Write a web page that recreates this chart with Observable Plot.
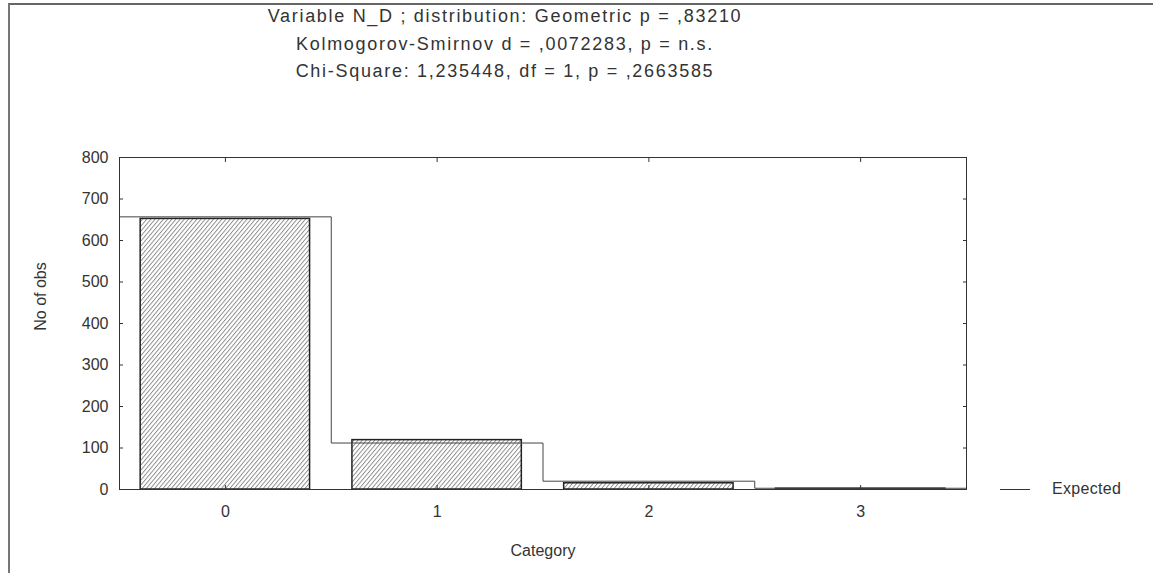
<!DOCTYPE html>
<html>
<head>
<meta charset="utf-8">
<script src="https://cdn.jsdelivr.net/npm/d3@7"></script>
<script src="https://cdn.jsdelivr.net/npm/@observablehq/plot@0.6"></script>
<style>
  html, body { margin: 0; padding: 0; background: #fff; }
  #wrap { position: relative; width: 1153px; height: 573px; overflow: hidden; font-family: "Liberation Sans", Arial, sans-serif; color: #333; }
  #chart { position: absolute; left: 0; top: 0; }
  #border { position: absolute; left: 8px; top: 3px; width: 1150px; height: 580px; box-sizing: border-box; border-top: 2px solid #666; border-left: 2px solid #777; pointer-events: none; }
  #titles { position: absolute; left: 0; top: 3px; width: 1010px; text-align: center; font-size: 18px; line-height: 27.5px; letter-spacing: 1.7px; }
  #legend { position: absolute; left: 1000px; top: 478px; font-size: 16px; line-height: 22px; display: flex; align-items: center; letter-spacing: 0.3px; }
  #legend .sw { width: 30px; height: 0; border-top: 1px solid #333; margin-right: 22px; }
</style>
</head>
<body>
<div id="wrap">
  <div id="chart"></div>
  <div id="border"></div>
  <div id="titles"></div>
  <div id="legend"><span class="sw"></span><span id="legtext"></span></div>
</div>
<script>
const titleLines = [
  "Variable N_D ; distribution: Geometric p = ,83210",
  "Kolmogorov-Smirnov d = ,0072283, p = n.s.",
  "Chi-Square: 1,235448, df = 1, p = ,2663585"
];
const categories = [0, 1, 2, 3];
const observed = [652, 119, 15, 2];
const expected = [657, 112, 20, 3];
const yTicks = [0, 100, 200, 300, 400, 500, 600, 700, 800];
const xLabel = "Category";
const yLabel = "No of obs";
const legendLabel = "Expected";

document.getElementById("titles").innerHTML = titleLines.map(t => `<div>${t}</div>`).join("");
document.getElementById("legtext").textContent = legendLabel;

const bars = categories.map((c, i) => ({cat: c, value: observed[i]}));
const stepPts = categories.map((c, i) => ({x: c - 0.5, y: expected[i]}));
stepPts.push({x: categories[categories.length - 1] + 0.5, y: expected[expected.length - 1]});

const chart = Plot.plot({
  width: 1153,
  height: 573,
  marginLeft: 119,
  marginRight: 187,
  marginTop: 157,
  marginBottom: 84,
  style: {fontFamily: "'Liberation Sans', Arial, sans-serif", fontSize: "16px", color: "#333", background: "transparent"},
  x: {domain: [-0.5, 3.5]},
  y: {domain: [0, 800]},
  marks: [
    Plot.rectY(bars, {x1: d => d.cat - 0.4, x2: d => d.cat + 0.4, y1: 0, y2: "value", fill: "url(#hatch)", stroke: "#222", strokeWidth: 1.5}),
    Plot.line(stepPts, {x: "x", y: "y", curve: "step-after", stroke: "#444", strokeWidth: 1}),
    Plot.frame({stroke: "#333", strokeWidth: 1}),
    Plot.axisY(yTicks, {anchor: "left", tickSize: -4, tickPadding: 15, tickFormat: d3.format("d"), label: null, stroke: "#333"}),
    Plot.axisY(yTicks, {anchor: "right", tickSize: -4, tickFormat: () => "", label: null, stroke: "#333"}),
    Plot.axisX(categories, {anchor: "bottom", tickSize: -4, tickPadding: 20, tickFormat: d3.format("d"), label: xLabel, labelAnchor: "center", labelOffset: 66, labelArrow: "none", stroke: "#333"}),
    Plot.axisX(categories, {anchor: "top", tickSize: -4, tickFormat: () => "", label: null, stroke: "#333"}),
    Plot.text([yLabel], {frameAnchor: "left", rotate: -90, textAnchor: "middle", dx: -79, dy: -27, fill: "#333"})
  ]
});

const ns = "http://www.w3.org/2000/svg";
const defs = document.createElementNS(ns, "defs");
defs.innerHTML = `<pattern id="hatch" patternUnits="userSpaceOnUse" width="3.2" height="10" patternTransform="rotate(40)">
  <rect width="3.2" height="10" fill="#fff"></rect>
  <line x1="0.5" y1="0" x2="0.5" y2="10" stroke="#666" stroke-width="0.8"></line>
</pattern>`;
chart.insertBefore(defs, chart.firstChild);
document.getElementById("chart").appendChild(chart);
</script>
</body>
</html>
